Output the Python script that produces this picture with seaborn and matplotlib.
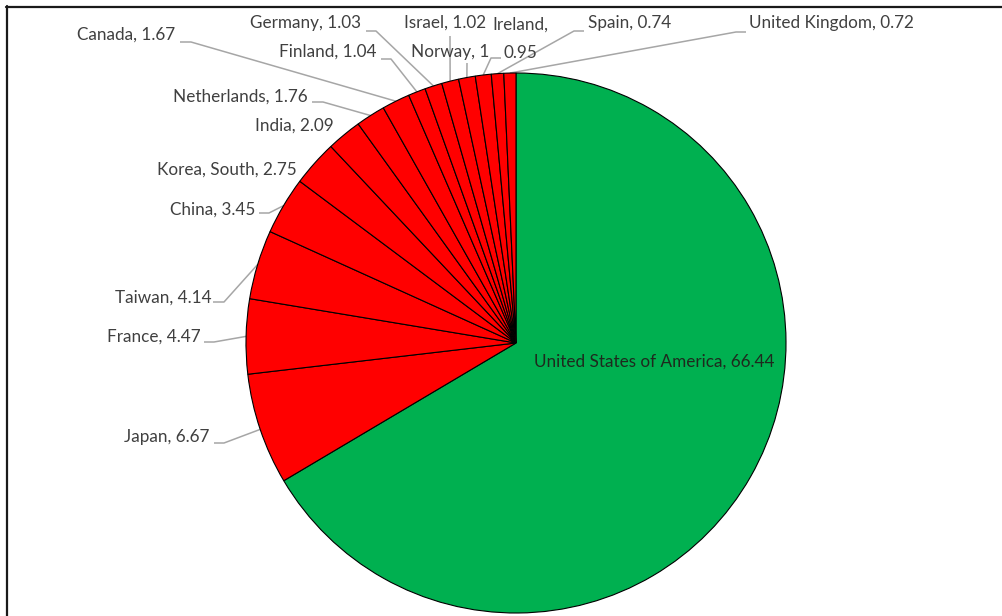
import matplotlib
matplotlib.use("Agg")
import matplotlib.pyplot as plt
import numpy as np
import seaborn as sns
from matplotlib.lines import Line2D

# Shares by country (percent), clockwise from 12 o'clock
countries = ["United States of America", "Japan", "France", "Taiwan", "China",
             "Korea, South", "India", "Netherlands", "Canada", "Finland",
             "Germany", "Israel", "Norway", "Ireland", "Spain", "United Kingdom"]
shares = [66.44, 6.67, 4.47, 4.14, 3.45, 2.75, 2.09, 1.76, 1.67, 1.04,
          1.03, 1.02, 1.00, 0.95, 0.74, 0.72]

GREEN = "#00B050"
RED = "#FF0000"
TEXT = "#404040"
LEADER = "#A6A6A6"
FS = 12.3

sns.set_theme(style="white")
plt.rcParams["font.family"] = ["Lato", "DejaVu Sans"]

W, H = 1002, 616
fig = plt.figure(figsize=(W / 100, H / 100), dpi=100)
ax = fig.add_axes([0, 0, 1, 1])


def py(y):
    """Convert a top-down pixel row to the axes' bottom-up y value."""
    return H - y


cx, cy, r = 516, py(343), 270
colors = [GREEN] + [RED] * (len(shares) - 1)
wedges, _ = ax.pie(shares, colors=colors, startangle=90, counterclock=False,
                   center=(cx, cy), radius=r,
                   wedgeprops=dict(edgecolor="black", linewidth=0.8))
ax.set_xlim(0, W)
ax.set_ylim(0, H)
ax.set_aspect("equal")
ax.axis("off")

# Label placement: text centre, then the leader's start and elbow (pixels)
label_layout = {
    "Japan": ((167, 437), [(214, 443), (224, 443)]),
    "France": ((154, 337), [(204, 342), (214, 342)]),
    "Taiwan": ((163, 298), [(213, 302), (224, 302)]),
    "China": ((213, 210), [(259, 213), (269, 213)]),
    "Korea, South": ((227, 170), None),
    "India": ((294, 126), None),
    "Netherlands": ((240, 97), [(312, 102), (323, 102)]),
    "Canada": ((126, 35), [(180, 42), (191, 42)]),
    "Finland": ((328, 52), [(381, 59), (391, 59)]),
    "Germany": ((306, 23), [(366, 31), (376, 31)]),
    "Israel": ((445, 23), [(450, 36)]),
    "Norway": ((450, 52), [(467, 63)]),
    "Ireland": ((520, 39), [(501, 58), (491, 58)]),
    "Spain": ((630, 23), [(584, 31), (574, 31)]),
    "United Kingdom": ((831, 23), [(746, 32), (736, 32)]),
}

for name, val, w in zip(countries, shares, wedges):
    label = f"{name}, {val:g}"
    if name == "United States of America":
        ax.text(654, py(362), label, ha="center", va="center",
                fontsize=FS, color="#1E2A1E")
        continue
    (tx, ty), leader = label_layout[name]
    if name == "Ireland":
        label = f"{name},\n{val:g}"
    ax.text(tx, py(ty), label, ha="center", va="center", fontsize=FS,
            color=TEXT, linespacing=2.0)
    if leader:
        mid = np.deg2rad((w.theta1 + w.theta2) / 2)
        rim = (cx + r * np.cos(mid), cy + r * np.sin(mid))
        xs = [p[0] for p in leader] + [rim[0]]
        ys = [py(p[1]) for p in leader] + [rim[1]]
        ax.plot(xs, ys, color=LEADER, lw=1.1, solid_capstyle="butt", zorder=0)

# Chart-area border (top and left edges)
fig.add_artist(Line2D([6 / W, 1], [1 - 7 / H, 1 - 7 / H],
                      transform=fig.transFigure, color="#1a1a1a", lw=1.6))
fig.add_artist(Line2D([7 / W, 7 / W], [0, 1 - 6 / H],
                      transform=fig.transFigure, color="#1a1a1a", lw=1.6))

fig.savefig("out.png", dpi=100)
